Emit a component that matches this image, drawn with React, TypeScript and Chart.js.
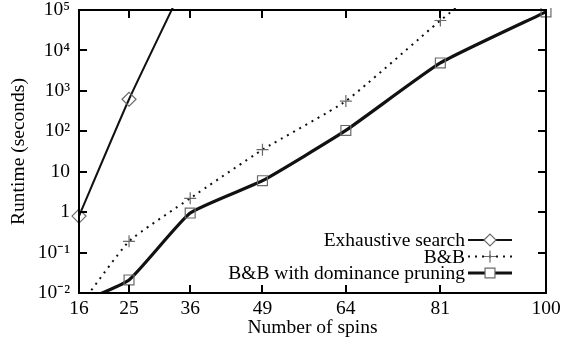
import React, { useEffect, useRef } from 'react';
import { Chart, registerables } from 'chart.js';

Chart.register(...registerables);

const spins = [16, 25, 36, 49, 64, 81, 100];
const exhaustiveSpins = [16, 25, 36];
const exhaustive = [0.8, 620, 900000];
const bnb = [0.0045, 0.19, 2.2, 35, 560, 55000, 7000000];
const pruning = [0.0057, 0.021, 0.95, 6, 105, 4900, 90000];
const yTicks = [1e-2, 1e-1, 1, 10, 1e2, 1e3, 1e4, 1e5];
const yTickLabels = ['10⁻²', '10⁻¹', '1', '10', '10²', '10³', '10⁴', '10⁵'];
const seriesNames = ['Exhaustive search', 'B&B', 'B&B with dominance pruning'];

const FONT = "'Liberation Serif', 'Times New Roman', serif";
const FS = 19.5;
const MARKER = '#6a6a6a';
const LINE = '#111111';

const lineStyles = [
  { width: 2, dash: [] as number[], marker: 'rectRot', radius: 7 },
  { width: 2, dash: [2, 5], marker: 'cross', radius: 6 },
  { width: 3.2, dash: [] as number[], marker: 'rect', radius: 7 },
];

function drawMarker(ctx: CanvasRenderingContext2D, style: string, x: number, y: number, r: number) {
  ctx.save();
  ctx.setLineDash([]);
  ctx.strokeStyle = MARKER;
  ctx.lineWidth = 1.2;
  ctx.fillStyle = '#ffffff';
  ctx.beginPath();
  if (style === 'rectRot') {
    ctx.moveTo(x - r, y);
    ctx.lineTo(x, y - r);
    ctx.lineTo(x + r, y);
    ctx.lineTo(x, y + r);
    ctx.closePath();
    ctx.fill();
  } else if (style === 'cross') {
    ctx.moveTo(x - r, y);
    ctx.lineTo(x + r, y);
    ctx.moveTo(x, y - r);
    ctx.lineTo(x, y + r);
  } else {
    const s = Math.SQRT1_2 * r;
    ctx.rect(x - s, y - s, 2 * s, 2 * s);
    ctx.fill();
  }
  ctx.stroke();
  ctx.restore();
}

const framePlugin = {
  id: 'gnuFrame',
  afterDatasetsDraw(chart: any) {
    const { ctx, chartArea } = chart;
    const { left, right, top, bottom } = chartArea;
    const xs = chart.scales.x;
    const ys = chart.scales.y;
    ctx.save();
    ctx.strokeStyle = '#000';
    ctx.lineWidth = 2;
    ctx.setLineDash([]);
    ctx.strokeRect(left, top, right - left, bottom - top);
    const tl = 8;
    ctx.beginPath();
    for (const v of spins) {
      const px = Math.round(xs.getPixelForValue(v));
      ctx.moveTo(px, bottom);
      ctx.lineTo(px, bottom - tl);
      ctx.moveTo(px, top);
      ctx.lineTo(px, top + tl);
    }
    for (const v of yTicks) {
      const py = Math.round(ys.getPixelForValue(v));
      ctx.moveTo(left, py);
      ctx.lineTo(left + tl, py);
      ctx.moveTo(right, py);
      ctx.lineTo(right - tl, py);
    }
    ctx.stroke();

    // legend (gnuplot style, bottom right inside)
    const textRight = right - 81;
    const lineStart = right - 78;
    const lineEnd = right - 34;
    const rowY = [bottom - 53, bottom - 36.5, bottom - 20];
    ctx.font = `${FS}px ${FONT}`;
    ctx.fillStyle = '#000';
    ctx.textAlign = 'right';
    ctx.textBaseline = 'middle';
    seriesNames.forEach((name, i) => {
      const y = rowY[i];
      ctx.fillText(name, textRight, y + 1);
      const st = lineStyles[i];
      ctx.save();
      ctx.strokeStyle = LINE;
      ctx.lineWidth = st.width;
      ctx.setLineDash(st.dash);
      ctx.beginPath();
      ctx.moveTo(lineStart, y);
      ctx.lineTo(lineEnd, y);
      ctx.stroke();
      ctx.restore();
      drawMarker(ctx, st.marker, (lineStart + lineEnd) / 2, y, i === 2 ? 7 : 6);
    });
    ctx.restore();
  },
};

export default function App() {
  const canvasRef = useRef<HTMLCanvasElement | null>(null);

  useEffect(() => {
    const canvas = canvasRef.current;
    if (!canvas) return;
    const series = [
      exhaustiveSpins.map((x, i) => ({ x, y: exhaustive[i] })),
      spins.map((x, i) => ({ x, y: bnb[i] })),
      spins.map((x, i) => ({ x, y: pruning[i] })),
    ];
    const chart = new Chart(canvas, {
      type: 'line',
      data: {
        datasets: series.map((data, i) => ({
          label: seriesNames[i],
          data,
          borderColor: LINE,
          borderWidth: lineStyles[i].width,
          borderDash: lineStyles[i].dash,
          tension: 0.15,
          fill: false,
          pointStyle: lineStyles[i].marker as any,
          pointRadius: lineStyles[i].radius,
          pointHoverRadius: lineStyles[i].radius,
          pointBorderColor: MARKER,
          pointBorderWidth: 1.2,
          pointBackgroundColor: 'rgba(0,0,0,0)',
          clip: { left: 8, right: 8, top: 2, bottom: 0 } as any,
        })),
      },
      options: {
        animation: false,
        responsive: true,
        maintainAspectRatio: false,
        layout: { padding: { top: 10, right: 18, left: 0, bottom: 0 } },
        plugins: {
          legend: { display: false },
          tooltip: { enabled: false },
        },
        scales: {
          x: {
            type: 'linear',
            min: 16,
            max: 100,
            grid: { display: false, drawTicks: false },
            border: { display: false },
            afterBuildTicks: (s: any) => {
              s.ticks = spins.map((v) => ({ value: v }));
            },
            afterFit: (s: any) => {
              s.height = 54;
              s.paddingLeft = 0;
              s.paddingRight = 0;
            },
            ticks: {
              autoSkip: false,
              maxRotation: 0,
              padding: 4,
              color: '#000',
              font: { family: FONT, size: FS },
              callback: (v: any) => String(v),
            },
            title: {
              display: true,
              text: 'Number of spins',
              color: '#000',
              font: { family: FONT, size: FS },
              padding: { top: 0, bottom: 7 },
            },
          },
          y: {
            type: 'logarithmic',
            min: 1e-2,
            max: 1e5,
            grid: { display: false, drawTicks: false },
            border: { display: false },
            afterBuildTicks: (s: any) => {
              s.ticks = yTicks.map((v) => ({ value: v }));
            },
            afterFit: (s: any) => {
              s.width = 79;
              s.paddingTop = 0;
              s.paddingBottom = 0;
            },
            ticks: {
              autoSkip: false,
              padding: 9,
              color: '#000',
              font: { family: FONT, size: FS },
              callback: (v: any) => {
                const idx = yTicks.findIndex((t) => Math.abs(Math.log10(t) - Math.log10(Number(v))) < 1e-6);
                return idx >= 0 ? yTickLabels[idx] : '';
              },
            },
            title: {
              display: true,
              text: 'Runtime (seconds)',
              color: '#000',
              font: { family: FONT, size: FS },
              padding: { top: 7, bottom: 0 },
            },
          },
        },
      },
      plugins: [framePlugin],
    });
    return () => chart.destroy();
  }, []);

  return (
    <div style={{ position: 'fixed', left: 0, top: 0, width: 564, height: 347, background: '#fff' }}>
      <canvas ref={canvasRef} />
    </div>
  );
}
